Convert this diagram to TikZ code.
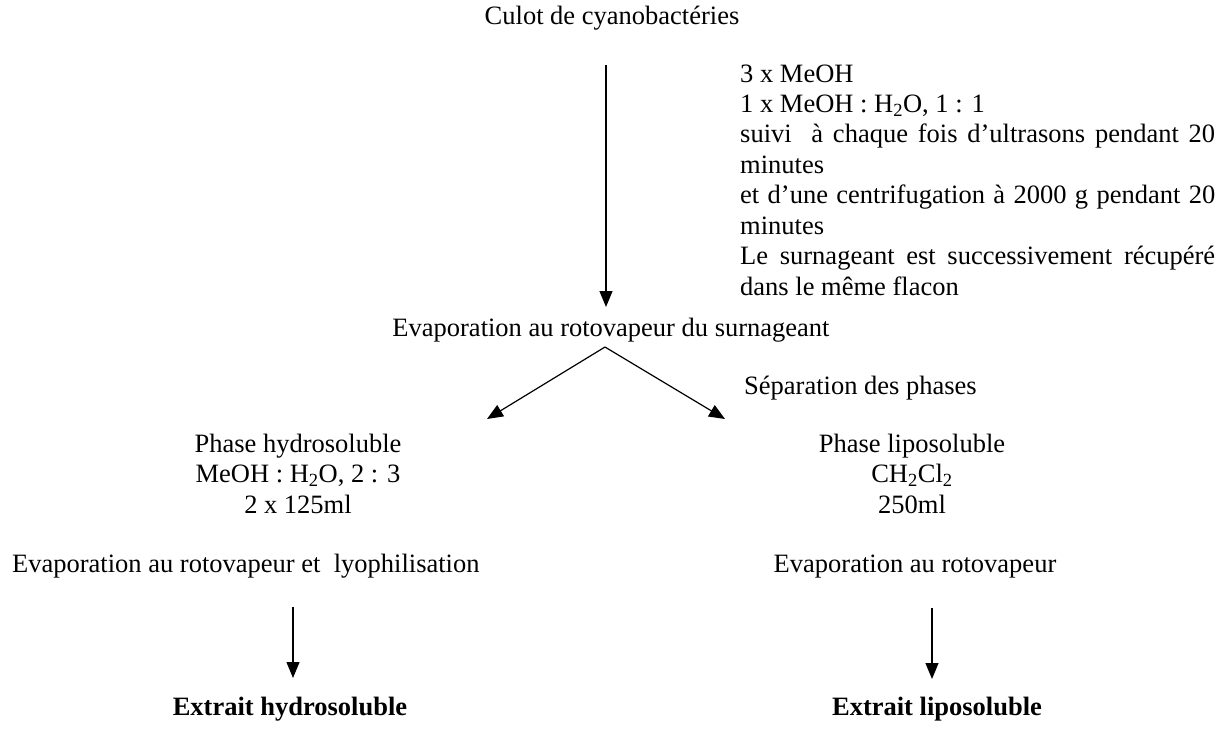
\documentclass[tikz,border=0pt]{standalone}
\usepackage{fontspec}
\setmainfont{Liberation Serif}
\usetikzlibrary{arrows.meta}
\newcommand{\txtsize}{\fontsize{26.5pt}{30.45pt}\selectfont}
\begin{document}
\begin{tikzpicture}[x=1pt,y=-1pt,
  lbl/.style={inner sep=0pt, font=\txtsize},
  blk/.style={lbl, align=center},
  arr/.style={line width=1.2pt, -{Triangle[length=16pt,width=13pt]}}]
\useasboundingbox (0,0) rectangle (1228,731);

% main extraction step
\node[lbl, anchor=base] (culot) at (612,24) {Culot de cyanobactéries};
\node[lbl, anchor=base west] (cond) at (740,82) {\parbox[t]{475pt}{\txtsize
3 x MeOH\\
1 x MeOH : H\textsubscript{2}O, 1 : 1\\
\makebox[\linewidth][s]{suivi\ \ à chaque fois d’ultrasons pendant 20}\\
minutes\\
\makebox[\linewidth][s]{et d’une centrifugation à 2000 g pendant 20}\\
minutes\\
\makebox[\linewidth][s]{Le surnageant est successivement récupéré}\\
dans le même flacon}};
\node[lbl, anchor=base] (evap) at (611,336) {Evaporation au rotovapeur du surnageant};

\coordinate (a1s) at (606,65);
\coordinate (a1e) at (606,307);
\draw[arr] (a1s) -- (a1e);

% phase separation
\coordinate (apex) at (605,347);
\coordinate (tipL) at (487,419);
\coordinate (tipR) at (725,419);
\draw[arr] (apex) -- (tipL);
\draw[arr] (apex) -- (tipR);
\node[lbl, anchor=base west] (sep) at (744,394) {Séparation des phases};

% three-line blocks, placed by the baseline of their last line
\node[blk, anchor=base] (hydro) at (298,513) {Phase hydrosoluble\\MeOH : H\textsubscript{2}O, 2 : 3\\2 x 125ml};
\node[blk, anchor=base] (lipo) at (912,513) {Phase liposoluble\\CH\textsubscript{2}Cl\textsubscript{2}\\250ml};

% final treatments
\node[lbl, anchor=base west] (evapL) at (12,572) {Evaporation au rotovapeur et\ \ lyophilisation};
\node[lbl, anchor=base] (evapR) at (915,572) {Evaporation au rotovapeur};

\coordinate (a2s) at (293,607);
\coordinate (a2e) at (293,678);
\coordinate (a3s) at (932,608);
\coordinate (a3e) at (932,679);
\draw[arr] (a2s) -- (a2e);
\draw[arr] (a3s) -- (a3e);

\node[lbl, anchor=base, font=\txtsize\bfseries] (extH) at (290,715) {Extrait hydrosoluble};
\node[lbl, anchor=base, font=\txtsize\bfseries] (extL) at (937,715) {Extrait liposoluble};
\end{tikzpicture}
\end{document}
